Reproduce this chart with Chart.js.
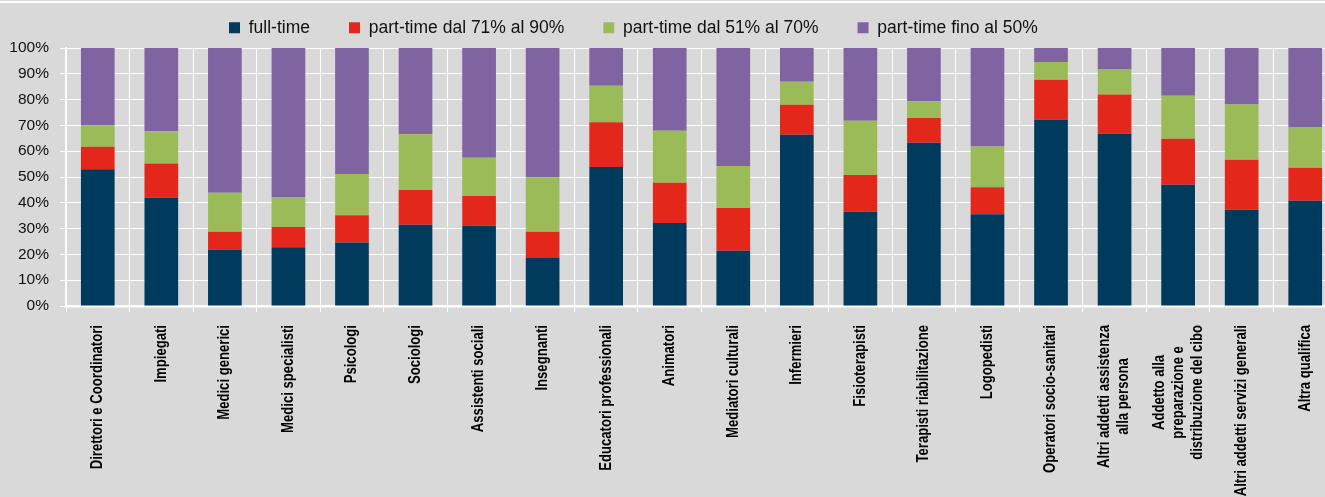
<!DOCTYPE html>
<html>
<head>
<meta charset="utf-8">
<script src="https://cdn.jsdelivr.net/npm/chart.js@4"></script>
<style>
  html, body { margin: 0; padding: 0; background: #d9d9d9; overflow: hidden; }
  canvas { display: block; }
</style>
</head>
<body>
<canvas id="chart" width="1337" height="497"></canvas>
<script>
const FONT = '"Liberation Sans", Arial, sans-serif';

const categories = [
  ["Direttori e Coordinatori"],
  ["Impiegati"],
  ["Medici generici"],
  ["Medici specialisti"],
  ["Psicologi"],
  ["Sociologi"],
  ["Assistenti sociali"],
  ["Insegnanti"],
  ["Educatori professionali"],
  ["Animatori"],
  ["Mediatori culturali"],
  ["Infermieri"],
  ["Fisioterapisti"],
  ["Terapisti riabilitazione"],
  ["Logopedisti"],
  ["Operatori socio-sanitari"],
  ["Altri addetti assistenza", "alla persona"],
  ["Addetto alla", "preparazione e", "distribuzione del cibo"],
  ["Altri addetti servizi generali"],
  ["Altra qualifica"]
];

const fullTime  = [53.0, 42.0, 21.9, 22.8, 24.6, 31.5, 31.1, 18.6, 53.9, 32.2, 21.4, 66.4, 36.5, 63.3, 35.6, 72.3, 66.8, 47.0, 37.3, 40.8];
const pt71a90   = [ 8.7, 13.2,  6.9,  7.8, 10.6, 13.5, 11.5, 10.2, 17.3, 15.6, 16.6, 11.6, 14.3,  9.6, 10.4, 15.4, 15.2, 17.8, 19.4, 12.8];
const pt51a70   = [ 8.4, 12.5, 15.1, 11.6, 16.0, 21.6, 14.9, 21.1, 14.2, 20.1, 16.3,  8.9, 21.0,  6.5, 15.8,  6.9,  9.7, 16.7, 21.4, 15.8];
const ptFino50  = [29.9, 32.3, 56.1, 57.8, 48.8, 33.4, 42.5, 50.1, 14.6, 32.1, 45.7, 13.1, 28.2, 20.6, 38.2,  5.4,  8.3, 18.5, 21.9, 30.6];

const seriesNames = ["full-time", "part-time dal 71% al 90%", "part-time dal 51% al 70%", "part-time fino al 50%"];
const seriesColors = ["#003a5c", "#e3281b", "#9bbb59", "#8064a2"];

// sfondo grigio + filo bianco in alto
const background = {
  id: 'background',
  beforeDraw(chart) {
    const ctx = chart.ctx;
    ctx.save();
    ctx.fillStyle = '#d9d9d9';
    ctx.fillRect(0, 0, chart.width, chart.height);
    ctx.fillStyle = '#ffffff';
    ctx.fillRect(0, 1, chart.width, 2);
    ctx.restore();
  }
};

// legenda: altezza fissa e posizione come nell'originale
const legendPlace = {
  id: 'legendPlace',
  beforeInit(chart) {
    const lg = chart.legend;
    const fit = lg.fit;
    lg.fit = function () {
      fit.call(this);
      this.height = 48;
    };
  },
  afterLayout(chart) {
    const lg = chart.legend;
    const pad = lg.options.labels.padding;
    lg.left = 229 - pad;
    lg.top = 19 - pad;
  }
};

// etichette asse x ruotate, righe centrate, testo un po' stretto
const xLabels = {
  id: 'xLabels',
  afterDraw(chart) {
    const ctx = chart.ctx;
    const xs = chart.scales.x;
    const lineH = 19;
    const squeeze = 0.82;
    ctx.save();
    ctx.font = 'bold 16px ' + FONT;
    ctx.fillStyle = '#000';
    ctx.textAlign = 'center';
    ctx.textBaseline = 'middle';
    chart.data.labels.forEach((lines, i) => {
      const x = xs.getPixelForValue(i);
      const w = Math.max(...lines.map(t => ctx.measureText(t).width)) * squeeze;
      const yc = xs.top + 19 + w / 2;
      lines.forEach((t, j) => {
        ctx.save();
        ctx.translate(x + (j - (lines.length - 1) / 2) * lineH, yc);
        ctx.rotate(-Math.PI / 2);
        ctx.scale(squeeze, 1);
        ctx.fillText(t, 0, 0);
        ctx.restore();
      });
    });
    ctx.restore();
  }
};

const values = [fullTime, pt71a90, pt51a70, ptFino50];

new Chart(document.getElementById("chart"), {
  type: "bar",
  data: {
    labels: categories,
    datasets: values.map((v, k) => ({
      label: seriesNames[k],
      data: v,
      backgroundColor: seriesColors[k],
      borderWidth: 0,
      barPercentage: 0.53,
      categoryPercentage: 1
    }))
  },
  options: {
    responsive: false,
    animation: false,
    layout: { padding: 0 },
    plugins: {
      tooltip: { enabled: false },
      legend: {
        position: 'top',
        align: 'start',
        labels: {
          boxWidth: 11,
          boxHeight: 11,
          padding: 39,
          color: '#111',
          font: { family: FONT, size: 17.5 }
        }
      }
    },
    scales: {
      x: {
        stacked: true,
        afterFit: s => { s.height = 191; },
        ticks: { display: false },
        grid: { color: '#ffffff', lineWidth: 1, tickLength: 6, offset: true },
        border: { color: '#ffffff', width: 2.5 }
      },
      y: {
        stacked: true,
        min: 0,
        max: 100,
        afterFit: s => { s.width = 66; },
        ticks: {
          stepSize: 10,
          padding: 11,
          color: '#111',
          font: { family: FONT, size: 15.5 },
          callback: v => v + '%'
        },
        grid: { color: '#ffffff', lineWidth: 1, tickLength: 6 },
        border: { color: '#ffffff', width: 2 }
      }
    }
  },
  plugins: [background, legendPlace, xLabels]
});
</script>
</body>
</html>
